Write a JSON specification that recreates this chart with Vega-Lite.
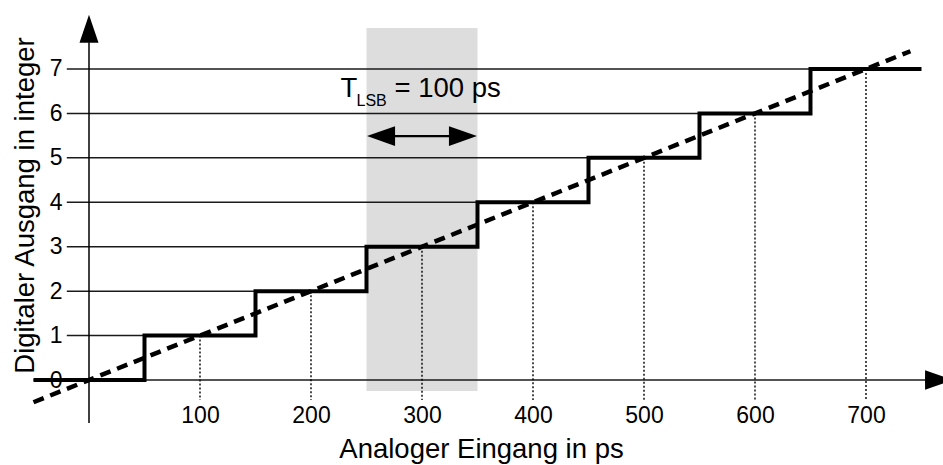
{
  "$schema": "https://vega.github.io/schema/vega-lite/v6.json",
  "width": 828,
  "height": 390,
  "padding": {"left": 67, "top": 10, "right": 48, "bottom": 65},
  "autosize": {"type": "none"},
  "background": "white",
  "config": {"view": {"stroke": null}},
  "datasets": {
    "shade": [{"x": 250, "x2": 350, "y": -0.25, "y2": 7.92}],
    "grid": [
      {"x": -20, "x2": 50, "y": 1},
      {"x": -20, "x2": 150, "y": 2},
      {"x": -20, "x2": 250, "y": 3},
      {"x": -20, "x2": 350, "y": 4},
      {"x": -20, "x2": 450, "y": 5},
      {"x": -20, "x2": 550, "y": 6},
      {"x": -20, "x2": 650, "y": 7}
    ],
    "xaxis": [{"x": -50, "x2": 754, "y": 0}],
    "yaxis": [{"x": 0, "y": -0.97, "y2": 7.6}],
    "dotted": [
      {"x": 100, "y": 1, "y2": -0.45},
      {"x": 200, "y": 2, "y2": -0.45},
      {"x": 300, "y": 3, "y2": -0.45},
      {"x": 400, "y": 4, "y2": -0.45},
      {"x": 500, "y": 5, "y2": -0.45},
      {"x": 600, "y": 6, "y2": -0.45},
      {"x": 700, "y": 7, "y2": -0.45}
    ],
    "stairs": [
      {"x": -50, "y": 0}, {"x": 50, "y": 1}, {"x": 150, "y": 2}, {"x": 250, "y": 3},
      {"x": 350, "y": 4}, {"x": 450, "y": 5}, {"x": 550, "y": 6}, {"x": 650, "y": 7},
      {"x": 750, "y": 7}
    ],
    "ideal": [{"x": -50, "y": -0.5}, {"x": 740, "y": 7.4}],
    "yarrow": [{"x": 0, "y": 7.906}],
    "rightheads": [{"x": 765.8, "y": 0}, {"x": 336.9, "y": 5.49}],
    "leftheads": [{"x": 263.1, "y": 5.49}],
    "shaft": [{"x": 263, "x2": 337, "y": 5.49}]
  },
  "encoding": {
    "x": {
      "field": "x", "type": "quantitative",
      "scale": {"domain": [-19.82, 726.13], "nice": false, "zero": false},
      "axis": {
        "values": [100, 200, 300, 400, 500, 600, 700],
        "domain": false, "ticks": false, "tickSize": 0, "grid": false,
        "labelFont": "Liberation Sans", "labelFontSize": 23, "labelColor": "black", "labelPadding": 4,
        "labelFlush": false, "labelOverlap": false,
        "title": "Analoger Eingang in ps", "titleFont": "Liberation Sans", "titleFontSize": 27.5,
        "titleFontWeight": "normal", "titleColor": "black", "titlePadding": 8
      }
    },
    "y": {
      "field": "y", "type": "quantitative",
      "scale": {"domain": [-0.4501, 8.3277], "nice": false, "zero": false},
      "axis": {
        "values": [0, 1, 2, 3, 4, 5, 6, 7],
        "domain": false, "ticks": false, "tickSize": 0, "grid": false,
        "labelFont": "Liberation Sans", "labelFontSize": 23, "labelColor": "black", "labelPadding": 5,
        "labelFlush": false, "labelOverlap": false,
        "title": "Digitaler Ausgang in integer", "titleFont": "Liberation Sans", "titleFontSize": 27.5,
        "titleFontWeight": "normal", "titleColor": "black", "titlePadding": 10
      }
    }
  },
  "layer": [
    {
      "data": {"name": "shade"},
      "mark": {"type": "rect", "color": "#dddddd"},
      "encoding": {"x2": {"field": "x2"}, "y2": {"field": "y2"}}
    },
    {
      "data": {"name": "grid"},
      "mark": {"type": "rule", "color": "#1a1a1a", "strokeWidth": 1.5},
      "encoding": {"x2": {"field": "x2"}}
    },
    {
      "data": {"name": "xaxis"},
      "mark": {"type": "rule", "color": "#1a1a1a", "strokeWidth": 1.5},
      "encoding": {"x2": {"field": "x2"}}
    },
    {
      "data": {"name": "yaxis"},
      "mark": {"type": "rule", "color": "black", "strokeWidth": 1.5},
      "encoding": {"y2": {"field": "y2"}}
    },
    {
      "data": {"name": "dotted"},
      "mark": {"type": "rule", "color": "black", "strokeWidth": 1.4, "strokeDash": [2, 2]},
      "encoding": {"y2": {"field": "y2"}}
    },
    {
      "data": {"name": "stairs"},
      "mark": {"type": "line", "color": "black", "strokeWidth": 4, "interpolate": "step-after", "strokeCap": "butt", "strokeJoin": "miter"},
      "encoding": {}
    },
    {
      "data": {"name": "ideal"},
      "mark": {"type": "line", "color": "black", "strokeWidth": 4.5, "strokeDash": [11, 7], "strokeCap": "butt"},
      "encoding": {}
    },
    {
      "data": {"name": "yarrow"},
      "mark": {"type": "point", "shape": "M0,-1L0.68,1L-0.68,1Z", "size": 784, "filled": true, "color": "black", "opacity": 1, "strokeWidth": 0},
      "encoding": {}
    },
    {
      "data": {"name": "rightheads"},
      "mark": {"type": "point", "shape": "M1,0L-1,-0.7L-1,0.7Z", "size": 784, "filled": true, "color": "black", "opacity": 1, "strokeWidth": 0},
      "encoding": {}
    },
    {
      "data": {"name": "leftheads"},
      "mark": {"type": "point", "shape": "M-1,0L1,-0.7L1,0.7Z", "size": 784, "filled": true, "color": "black", "opacity": 1, "strokeWidth": 0},
      "encoding": {}
    },
    {
      "data": {"name": "shaft"},
      "mark": {"type": "rule", "color": "black", "strokeWidth": 2.2},
      "encoding": {"x2": {"field": "x2"}}
    },
    {
      "data": {"name": "shade"},
      "mark": {"type": "text", "text": "T", "font": "Liberation Sans", "fill": "black", "fontSize": 27.5, "align": "left", "baseline": "alphabetic", "dx": -26, "dy": 69},
      "encoding": {"y": {"field": "y2"}}
    },
    {
      "data": {"name": "shade"},
      "mark": {"type": "text", "text": "LSB", "font": "Liberation Sans", "fill": "black", "fontSize": 16, "align": "left", "baseline": "alphabetic", "dx": -10, "dy": 78},
      "encoding": {"y": {"field": "y2"}}
    },
    {
      "data": {"name": "shade"},
      "mark": {"type": "text", "text": "= 100 ps", "font": "Liberation Sans", "fill": "black", "fontSize": 27.5, "align": "left", "baseline": "alphabetic", "dx": 28, "dy": 69},
      "encoding": {"y": {"field": "y2"}}
    }
  ]
}
